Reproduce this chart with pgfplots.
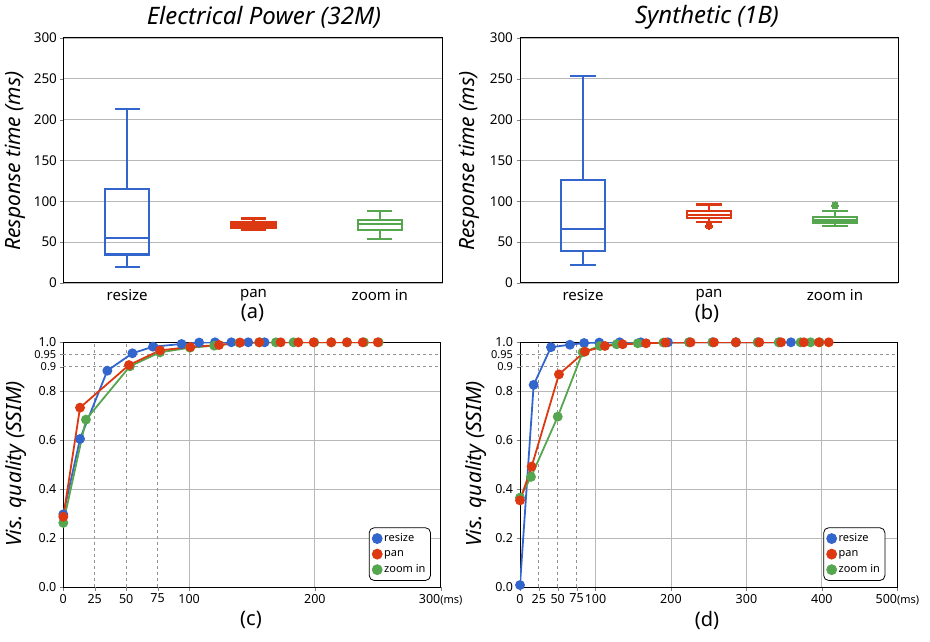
\documentclass[border=0pt]{standalone}
\usepackage{pgfplots}
\pgfplotsset{compat=1.18}
\usepgfplotslibrary{statistics}
\usepackage{fontspec}
\setmainfont{Noto Sans}
\definecolor{cblue}{HTML}{3366CC}
\definecolor{cred}{HTML}{DC3912}
\definecolor{cgreen}{HTML}{55A64E}
\definecolor{gridc}{HTML}{B8B8B8}
\newcommand{\fs}[1]{\fontsize{#1}{#1}\selectfont}
\pgfplotsset{
  boxax/.style={scale only axis, anchor=south west, width=379pt, height=245pt,
    xmin=0.5, xmax=3.5, ymin=0, ymax=300,
    xtick={1,2,3}, xticklabels={resize,pan,zoom in},
    ytick={0,50,...,300},
    ymajorgrids, grid style={gridc, line width=0.9pt},
    major x tick style={draw=none},
    tick align=outside, tick pos=left,
    major tick length=3.5pt,
    axis line style={line width=1pt},
    /pgf/number format/assume math mode=true,
    yticklabel style={font=\fs{13.5}},
    xticklabel style={font=\fs{15}, yshift=1pt},
    boxplot/draw direction=y},
  qax/.style={scale only axis, anchor=south west, width=377.4pt, height=244.7pt,
    ymin=0, ymax=1,
    ytick={0,0.2,0.4,0.6,0.8,1}, yticklabels={0.0,0.2,0.4,0.6,0.8,1.0},
    extra y ticks={0.9,0.95}, extra y tick labels={0.9,0.95},
    extra y tick style={grid=major, major grid style={gridc!80!black, dashed, line width=0.8pt}, yticklabel style={font=\fs{11}}},
    xmajorgrids, ymajorgrids,
    grid style={gridc, line width=0.9pt},
    tick align=outside, tick pos=left, major tick length=3.5pt,
    axis line style={line width=1pt},
    /pgf/number format/assume math mode=true,
    ticklabel style={font=\fs{12.5}},
    legend style={font=\fs{11}, rounded corners=5pt, draw=black, line width=0.8pt,
      row sep=3pt, inner xsep=3pt, inner ysep=4pt, cells={anchor=west}},
    legend cell align=left},
  sl/.style={line width=1.8pt, mark=*, mark size=4pt}
}
\begin{document}
\begin{tikzpicture}
\useasboundingbox (0,0) rectangle (930pt,641pt);
% (a)
\begin{axis}[boxax, at={(64pt,358pt)}]
\addplot[cblue, line width=2.2pt, boxplot prepared={draw position=1, lower whisker=20, lower quartile=35, median=55, upper quartile=115, upper whisker=213, box extend=0.35, whisker extend=0.2}] coordinates {};
\addplot[cred, line width=2.2pt, boxplot prepared={draw position=2, lower whisker=65, lower quartile=68, median=71, upper quartile=74, upper whisker=79, box extend=0.35, whisker extend=0.2}] coordinates {};
\addplot[cgreen, line width=2.2pt, boxplot prepared={draw position=3, lower whisker=54, lower quartile=65, median=72, upper quartile=77, upper whisker=88, box extend=0.35, whisker extend=0.2}] coordinates {};
\end{axis}
% (b)
\begin{axis}[boxax, at={(520pt,358pt)}, width=378pt]
\addplot[cblue, line width=2.2pt, boxplot prepared={draw position=1, lower whisker=22, lower quartile=39, median=66, upper quartile=126, upper whisker=253, box extend=0.35, whisker extend=0.2}] coordinates {};
\addplot[cred, line width=2.2pt, mark=*, mark size=3.5pt, mark options={fill=cred, draw=cred, line width=0pt}, boxplot prepared={draw position=2, lower whisker=75, lower quartile=80, median=83, upper quartile=88, upper whisker=96, box extend=0.35, whisker extend=0.2}] table[row sep=\\, y index=0] {v\\ 70\\};
\addplot[cgreen, line width=2.2pt, mark=*, mark size=3.5pt, mark options={fill=cgreen, draw=cgreen, line width=0pt}, boxplot prepared={draw position=3, lower whisker=70, lower quartile=74, median=77, upper quartile=81, upper whisker=88, box extend=0.35, whisker extend=0.2}] table[row sep=\\, y index=0] {v\\ 95\\};
\end{axis}
% (c)
\begin{axis}[qax, at={(63.3pt,54pt)}, xmin=0, xmax=300,
  xtick={0,100,200,300}, xticklabels={0,100,200,300{\fs{11}(ms)}},
  extra x ticks={25,50,75}, extra x tick labels={25,50,75},
  extra x tick style={grid=major, major grid style={gridc!80!black, dashed, line width=0.8pt}},
  legend style={at={(0.974,0.025)}, anchor=south east}]
\addlegendimage{only marks, mark=*, mark size=5pt, cblue}
\addlegendentry{resize}
\addlegendimage{only marks, mark=*, mark size=5pt, cred}
\addlegendentry{pan}
\addlegendimage{only marks, mark=*, mark size=5pt, cgreen}
\addlegendentry{zoom in}
\addplot[sl, cblue, forget plot] coordinates {(0,0.297)(13.3,0.605)(35,0.884)(54.9,0.955)(71.3,0.982)(94,0.993)(108,0.999)(120.6,1)(133.6,1)(147,1)(160,1)};
\addplot[sl, cgreen, forget plot] coordinates {(0,0.262)(18,0.684)(53,0.902)(76.9,0.959)(100.7,0.978)(120,0.986)(140,0.998)(155.8,1)(169,1)(183,1)(199.5,1)(213,1)(225.5,1)(239,1)(250.7,1)};
\addplot[sl, cred, forget plot] coordinates {(0,0.287)(13.3,0.733)(52.2,0.907)(76.9,0.967)(101,0.981)(123.8,0.989)(140.5,0.999)(155.8,1)(172.8,1)(186.8,1)(199,1)(213,1)(225.5,1)(238,1)(250,1)};
\end{axis}
% (d)
\begin{axis}[qax, at={(520pt,54pt)}, xmin=0, xmax=500,
  xtick={0,100,200,300,400,500}, xticklabels={0,100,200,300,400,500{\fs{11}(ms)}},
  extra x ticks={25,50,75}, extra x tick labels={25,50,75},
  extra x tick style={grid=major, major grid style={gridc!80!black, dashed, line width=0.8pt}},
  legend style={at={(0.968,0.025)}, anchor=south east}]
\addlegendimage{only marks, mark=*, mark size=5pt, cblue}
\addlegendentry{resize}
\addlegendimage{only marks, mark=*, mark size=5pt, cred}
\addlegendentry{pan}
\addlegendimage{only marks, mark=*, mark size=5pt, cgreen}
\addlegendentry{zoom in}
\addplot[sl, cblue, forget plot] coordinates {(0,0.008)(18.1,0.826)(41,0.98)(66.2,0.99)(85,0.997)(105,0.999)(132,1)(160,1)(196,1)(224,1)(255,1)(286,1)(315,1)(343,1)(359,1)};
\addplot[sl, cgreen, forget plot] coordinates {(0,0.365)(14.6,0.45)(50,0.696)(83,0.959)(106,0.985)(128,0.992)(156,0.996)(190,0.999)(224,1)(255,1)(286,1)(315,1)(343,1)(371.6,1)(385,1)(397,1)};
\addplot[sl, cred, forget plot] coordinates {(0,0.354)(15.4,0.492)(51.6,0.869)(86,0.962)(112.5,0.985)(136,0.992)(167,0.996)(193,0.999)(226,1)(257,1)(286,1)(317,1)(346,1)(376,1)(396,1)(409,1)};
\end{axis}
% titles and labels
\node[font=\fs{24}\itshape] at (264pt,624pt) {Electrical Power (32M)};
\node[font=\fs{24}\itshape] at (707pt,624pt) {Synthetic (1B)};
\node[font=\fs{21}\itshape, rotate=90] at (15pt,480pt) {Response time (ms)};
\node[font=\fs{21}\itshape, rotate=90] at (469pt,480pt) {Response time (ms)};
\node[font=\fs{21}\itshape, rotate=90] at (16pt,177pt) {Vis. quality (SSIM)};
\node[font=\fs{21}\itshape, rotate=90] at (476pt,177pt) {Vis. quality (SSIM)};
\node[font=\fs{20}] at (252.5pt,328pt) {(a)};
\node[font=\fs{20}] at (707pt,328pt) {(b)};
\node[font=\fs{20}] at (251pt,21pt) {(c)};
\node[font=\fs{20}] at (707pt,21pt) {(d)};
\end{tikzpicture}
\end{document}
